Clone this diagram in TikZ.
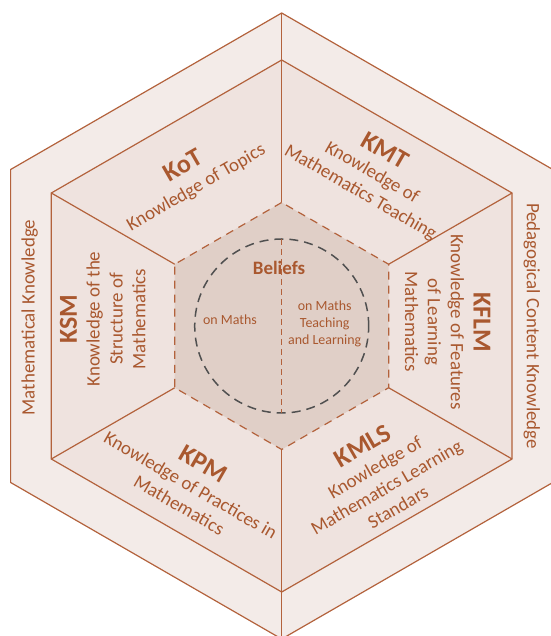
\documentclass[tikz,border=0pt]{standalone}
\usepackage{fontspec}
\setmainfont{Carlito}
\definecolor{mtkline}{HTML}{B3623C}
\definecolor{mtktext}{HTML}{A9582F}
\definecolor{mtkouter}{HTML}{F3EBE8}
\definecolor{mtkmiddle}{HTML}{EFE3DF}
\definecolor{mtkinner}{HTML}{E0CFC7}
\definecolor{mtkgrey}{HTML}{505050}
\newcommand{\hdr}[1]{{\fontsize{26}{28}\selectfont\bfseries #1}}
\tikzset{
  sector/.style={align=center, inner sep=0pt, text=mtktext, font=\fontsize{19}{23}\selectfont},
  side/.style={inner sep=0pt, text=mtktext, font=\fontsize{19}{23}\selectfont},
  belief/.style={align=center, inner sep=0pt, text=mtktext, font=\fontsize{14}{17}\selectfont},
}
\begin{document}
\begin{tikzpicture}[x=1bp, y=1bp]
\useasboundingbox (-281.7,-310) rectangle (269.3,326);
% outer band
\draw[mtkline, fill=mtkouter, line width=1.2bp] (90:313) -- (150:313) -- (210:313) -- (270:313) -- (330:313) -- (30:313) -- cycle;
% middle band
\draw[mtkline, fill=mtkmiddle, line width=1.2bp] (90:266) -- (150:266) -- (210:266) -- (270:266) -- (330:266) -- (30:266) -- cycle;
% beliefs
\fill[mtkinner] (90:123.5) -- (150:123.5) -- (210:123.5) -- (270:123.5) -- (330:123.5) -- (30:123.5) -- cycle;
\draw[mtkline, line width=1.2bp] (90:123.5) -- (90:313);
\draw[mtkline, line width=1.2bp] (270:123.5) -- (270:313);
\draw[mtkline, line width=1.2bp] (150:123.5) -- (150:266);
\draw[mtkline, line width=1.2bp] (30:123.5) -- (30:266);
\draw[mtkline, line width=1.2bp] (210:123.5) -- (210:266);
\draw[mtkline, line width=1.2bp] (330:123.5) -- (330:266);
\draw[mtkline, line width=1.2bp, dash pattern=on 8bp off 6bp] (90:123.5) -- (150:123.5) -- (210:123.5) -- (270:123.5) -- (330:123.5) -- (30:123.5) -- cycle;
\draw[mtkgrey, line width=1.5bp, dash pattern=on 9bp off 6bp] (0,0) circle [radius=87];
\draw[mtkline, line width=0.8bp, dash pattern=on 6bp off 4bp] (0,87) -- (0,-87);
\node[belief, font=\fontsize{19}{23}\selectfont\bfseries] (bel) at (-2.7,58) {Beliefs};
\node[belief] (belm) at (-51.7,6) {on Maths};
\node[belief] (belt) at (43,2) {on Maths\\Teaching\\and Learning};
% subdomains
\node[sector, rotate=30] (kot) at (-92,149.5) {\hdr{KoT}\\Knowledge of Topics};
\node[sector, rotate=-30] (kmt) at (91,154.5) {\hdr{KMT}\\Knowledge of\\Mathematics Teaching};
\node[sector, rotate=-90] (kflm) at (166,4) {\hdr{KFLM}\\Knowledge of Features\\of Learning\\Mathematics};
\node[sector, rotate=30] (kmls) at (98,-149.5) {\hdr{KMLS}\\Knowledge of\\Mathematics Learning\\Standars};
\node[sector, rotate=-30] (kpm) at (-90,-157.5) {\hdr{KPM}\\Knowledge of Practices in\\Mathematics};
\node[sector, rotate=90] (ksm) at (-179,7) {\hdr{KSM}\\Knowledge of the\\Structure of\\Mathematics};
% domains
\node[side, rotate=90] (mk) at (-252,8.5) {Mathematical Knowledge};
\node[side, rotate=-90] (pck) at (250,0) {Pedagogical Content Knowledge};
\end{tikzpicture}
\end{document}
